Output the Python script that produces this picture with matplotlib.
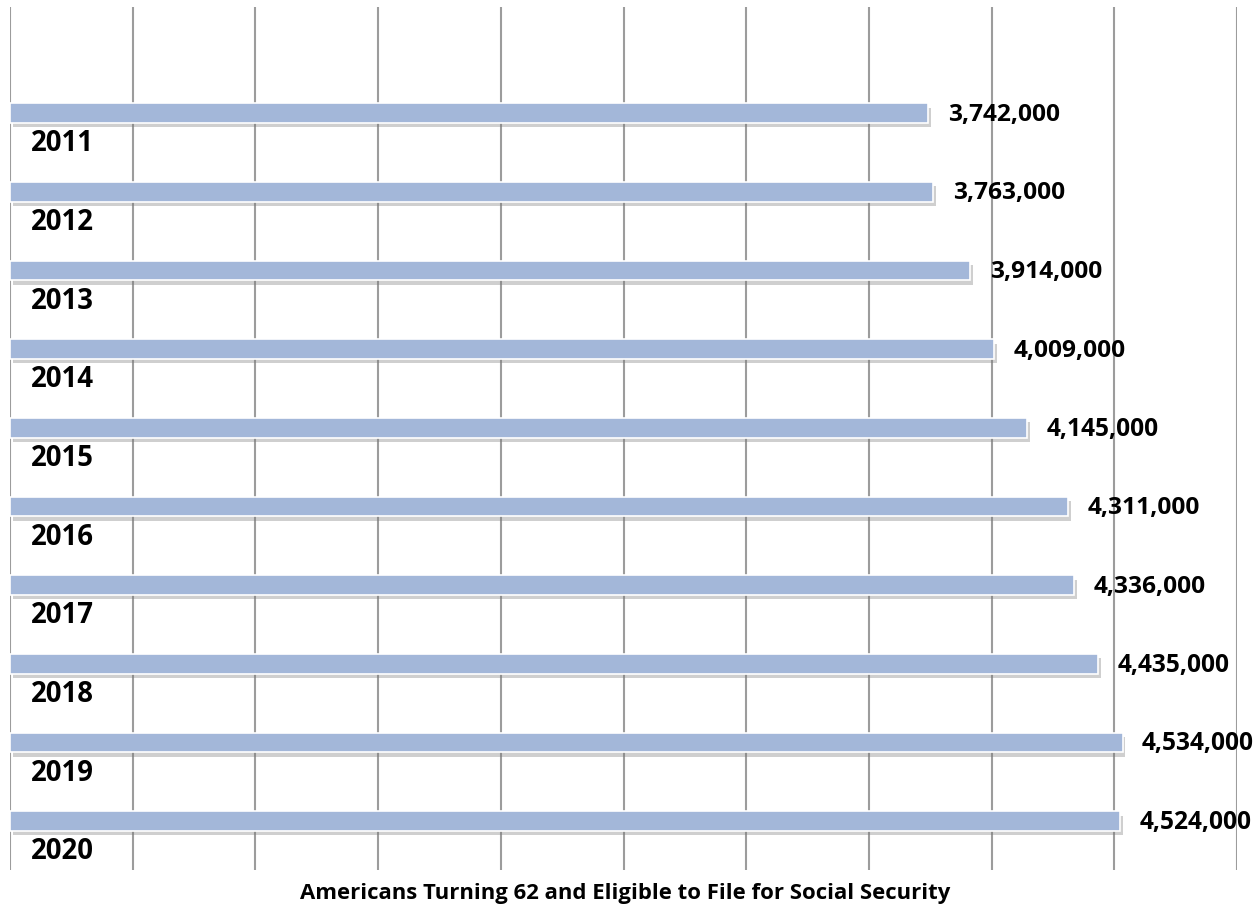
import matplotlib.pyplot as plt
import matplotlib.patheffects as pe

years = ["2011", "2012", "2013", "2014", "2015", "2016", "2017", "2018", "2019", "2020"]
people = [3742000, 3763000, 3914000, 4009000, 4145000, 4311000, 4336000, 4435000, 4534000, 4524000]
value_labels = ["3,742,000", "3,763,000", "3,914,000", "4,009,000", "4,145,000",
                "4,311,000", "4,336,000", "4,435,000", "4,534,000", "4,524,000"]
title = "Americans Turning 62 and Eligible to File for Social Security"

plt.rcParams['font.family'] = ['Open Sans', 'DejaVu Sans']

fig = plt.figure(figsize=(12.59, 9.08), dpi=100)
ax = fig.add_axes([10 / 1259, 38 / 908, 1227 / 1259, 863 / 908])
renderer = fig.canvas.get_renderer()


# font size that gives a bold string the width seen in the reference
def size_for(s, target_px):
    tmp = fig.text(0.5, 0.5, s, fontsize=20, fontweight="bold")
    w = tmp.get_window_extent(renderer).width
    tmp.remove()
    return 20 * target_px / w


ax.set_xlim(0, 5000000)
ax.set_ylim(9.62, -1.35)

pos = list(range(len(years)))
bars = ax.barh(pos, people, height=0.25, color="#A3B7D9", edgecolor="white",
               linewidth=1.2, zorder=3)
for b in bars:
    b.set_path_effects([pe.SimplePatchShadow(offset=(2, -3), shadow_rgbFace="#777777", alpha=0.35),
                        pe.Normal()])

for i, (v, lab, yr) in enumerate(zip(people, value_labels, years)):
    ax.annotate(lab, (v, i), xytext=(14, -1), textcoords="offset points",
                ha="left", va="center", fontsize=size_for(lab, 112),
                fontweight="bold", zorder=4, annotation_clip=False)
    ax.text(86000, i + 0.39, yr, ha="left", va="center",
            fontsize=size_for(yr, 63), fontweight="bold", zorder=4)

ax.set_xticks(range(0, 5000001, 500000))
ax.set_yticks([])
ax.grid(axis="x", color="#9C9C9C", linewidth=1.5, zorder=0)
ax.tick_params(axis="x", length=0, labelbottom=False)
for s in ax.spines.values():
    s.set_visible(False)

fig.text(625 / 1259, 1 - 894 / 908, title, ha="center", va="center",
         fontsize=size_for(title, 650), fontweight="bold")

fig.savefig("out.png", dpi=100)
